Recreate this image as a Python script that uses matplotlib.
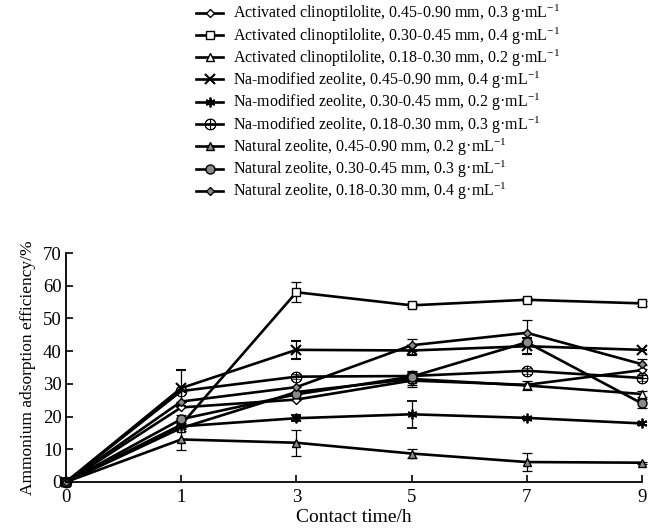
import matplotlib
import numpy as np

matplotlib.use("Agg")
import matplotlib.pyplot as plt  # noqa: E402

plt.rcParams["font.family"] = ["Liberation Serif", "DejaVu Serif"]
plt.rcParams["mathtext.fontset"] = "custom"
plt.rcParams["mathtext.rm"] = "Liberation Serif"
plt.rcParams["mathtext.it"] = "Liberation Serif:italic"

# tiempo de contacto (h), eje categórico
tiempos = ["0", "1", "3", "5", "7", "9"]

etiquetas = [
    "Activated clinoptilolite, 0.45-0.90 mm, 0.3 g·mL$^{-1}$",
    "Activated clinoptilolite, 0.30-0.45 mm, 0.4 g·mL$^{-1}$",
    "Activated clinoptilolite, 0.18-0.30 mm, 0.2 g·mL$^{-1}$",
    "Na-modified zeolite, 0.45-0.90 mm, 0.4 g·mL$^{-1}$",
    "Na-modified zeolite, 0.30-0.45 mm, 0.2 g·mL$^{-1}$",
    "Na-modified zeolite, 0.18-0.30 mm, 0.3 g·mL$^{-1}$",
    "Natural zeolite, 0.45-0.90 mm, 0.2 g·mL$^{-1}$",
    "Natural zeolite, 0.30-0.45 mm, 0.3 g·mL$^{-1}$",
    "Natural zeolite, 0.18-0.30 mm, 0.4 g·mL$^{-1}$",
]

# eficiencia de adsorción de amonio (%)
act_045 = [0, 22.8, 25.2, 31.0, 29.7, 34.2]
act_030 = [0, 17.5, 58.0, 54.0, 55.7, 54.6]
act_018 = [0, 16.5, 27.5, 31.5, 29.5, 26.9]
na_045 = [0, 28.7, 40.4, 40.2, 41.5, 40.4]
na_030 = [0, 17.0, 19.5, 20.7, 19.6, 17.9]
na_018 = [0, 27.8, 32.2, 32.4, 34.0, 31.8]
nat_045 = [0, 13.0, 12.0, 8.7, 6.1, 5.9]
nat_030 = [0, 19.2, 26.8, 32.2, 42.7, 24.0]
nat_018 = [0, 24.6, 29.0, 41.8, 45.6, 36.0]

# barras de error
err_act_045 = [0, 0, 0, 1.2, 0, 1.5]
err_act_030 = [0, 0, 3.0, 0.6, 0.5, 0.8]
err_act_018 = [0, 1.0, 0, 2.5, 1.5, 1.0]
err_na_045 = [0, 5.5, 2.8, 1.5, 2.5, 0]
err_na_030 = [0, 0, 1.0, 4.2, 0.4, 0.5]
err_na_018 = [0, 0, 0.8, 1.5, 1.0, 0.8]
err_nat_045 = [0, 3.3, 4.0, 1.4, 2.7, 0.3]
err_nat_030 = [0, 1.2, 0, 1.5, 0, 1.5]
err_nat_018 = [0, 0, 0, 1.8, 4.0, 1.5]

series = [act_045, act_030, act_018, na_045, na_030, na_018, nat_045, nat_030, nat_018]
errores = [err_act_045, err_act_030, err_act_018, err_na_045, err_na_030, err_na_018,
           err_nat_045, err_nat_030, err_nat_018]

gris = "#8a8a8a"
estilos = [
    dict(marker="D", ms=4, mfc="white"),
    dict(marker="s", ms=6, mfc="white"),
    dict(marker="^", ms=6, mfc="white"),
    dict(marker="x", ms=6.5, mew=1.5),
    dict(marker=(6, 2, 0), ms=7, mew=1.3),
    dict(marker=r"$\oplus$", ms=8, mew=0.5),
    dict(marker="^", ms=6, mfc=gris),
    dict(marker="o", ms=6.5, mfc=gris),
    dict(marker="D", ms=4.5, mfc=gris),
]

fig = plt.figure(figsize=(6.49, 5.28), dpi=100)
ax = fig.add_axes([66 / 649, 46 / 528, 576 / 649, 229 / 528])

xs = np.arange(len(tiempos))
manejadores = []
for y, e, et, st in zip(series, errores, etiquetas, estilos):
    cont = ax.errorbar(xs, y, yerr=e, color="black", lw=1.9, mec="black",
                       elinewidth=0.9, capsize=3.5, capthick=0.9, label=et, **st)
    linea, tapas, barras = cont.lines
    linea.set_clip_on(False)
    for a in list(tapas) + list(barras):
        a.set_clip_on(False)
    ln, = ax.plot([], [], color="black", lw=1.9, mec="black", **st)
    manejadores.append(ln)

ax.set_xlim(0, len(tiempos) - 1)
ax.set_ylim(0, 70)
ax.set_xticks(xs)
ax.set_xticklabels(tiempos)
ax.set_yticks(np.arange(0, 71, 10))
ax.spines["top"].set_visible(False)
ax.spines["right"].set_visible(False)
ax.spines["left"].set_linewidth(1.3)
ax.spines["bottom"].set_linewidth(1.3)
ax.tick_params(direction="in", length=5, width=1.2, labelsize=13.5, pad=3)
ax.tick_params(axis="x", pad=5)
ax.set_xlabel("Contact time/h", fontsize=14, labelpad=2)
ax.set_ylabel("Ammonium adsorption efficiency/%", fontsize=12.5, labelpad=5)

fig.legend(manejadores, etiquetas, loc="upper left", bbox_to_anchor=(196 / 649, 1 - 3 / 528),
           frameon=False, fontsize=11.5, handlelength=1.7, handletextpad=0.6,
           labelspacing=0.06, borderpad=0, borderaxespad=0)

fig.savefig("out.png", dpi=100)
